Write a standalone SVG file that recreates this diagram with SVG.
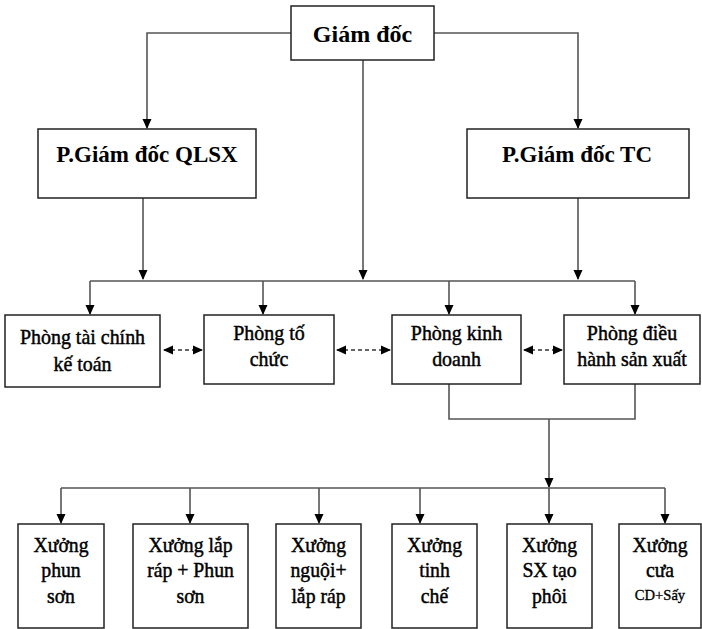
<svg xmlns="http://www.w3.org/2000/svg" width="702" height="629" viewBox="0 0 702 629">
<defs>
<marker id="ah" markerUnits="userSpaceOnUse" markerWidth="10" markerHeight="11" refX="9" refY="4.5" orient="auto-start-reverse" viewBox="0 0 10 9">
<path d="M0,0 L10,4.5 L0,9 Z" fill="#000"/>
</marker>
<marker id="dh" markerUnits="userSpaceOnUse" markerWidth="10" markerHeight="10" refX="9" refY="4.5" orient="auto-start-reverse" viewBox="0 0 10 9">
<path d="M0,0 L10,4.5 L0,9 Z" fill="#000"/>
</marker>
<style>
.box{fill:#fff;stroke:#222;stroke-width:1.5}
.ln{fill:none;stroke:#555;stroke-width:1.6}
.ar{fill:none;stroke:#555;stroke-width:1.6;marker-end:url(#ah)}
.da{fill:none;stroke:#666;stroke-width:2;stroke-dasharray:4 3;marker-start:url(#dh);marker-end:url(#dh)}
.tx{font-family:'Liberation Serif','DejaVu Serif','Times New Roman',serif;fill:#000;text-anchor:middle}
.t1{font-size:24px;font-weight:bold}
.t2{font-size:23px;font-weight:bold}
.t3{font-size:21px;stroke:#000;stroke-width:0.45}
.t4{font-size:15.5px;stroke:#000;stroke-width:0.35}
</style>
</defs>
<rect width="702" height="629" fill="#fff"/>
<g id="connectors">
<polyline class="ar" points="291,33 147,33 147,128"/>
<polyline class="ar" points="434,33 578,33 578,128"/>
<line class="ar" x1="363" y1="60" x2="363" y2="279"/>
<line class="ar" x1="143" y1="198" x2="143" y2="279"/>
<line class="ar" x1="578" y1="198" x2="578" y2="279"/>
<line class="ln" x1="90" y1="281" x2="635" y2="281"/>
<line class="ar" x1="90" y1="281" x2="90" y2="314"/>
<line class="ar" x1="263" y1="281" x2="263" y2="314"/>
<line class="ar" x1="449" y1="281" x2="449" y2="314"/>
<line class="ar" x1="635" y1="281" x2="635" y2="314"/>
<line class="da" x1="164" y1="350" x2="202" y2="350"/>
<line class="da" x1="337" y1="350" x2="390" y2="350"/>
<line class="da" x1="524" y1="350" x2="562" y2="350"/>
<polyline class="ln" points="449,384 449,419 635,419 635,384"/>
<line class="ar" x1="549" y1="419" x2="549" y2="487"/>
<line class="ln" x1="61" y1="488" x2="665" y2="488"/>
<line class="ar" x1="61" y1="488" x2="61" y2="523"/>
<line class="ar" x1="190" y1="488" x2="190" y2="523"/>
<line class="ar" x1="319" y1="488" x2="319" y2="523"/>
<line class="ar" x1="420" y1="488" x2="420" y2="523"/>
<line class="ar" x1="549" y1="488" x2="549" y2="523"/>
<line class="ar" x1="665" y1="488" x2="665" y2="523"/>
</g>
<g font-family="Liberation Serif, DejaVu Serif, serif">
<g id="giam-doc"><rect class="box" x="291" y="6" width="143" height="54"/><text class="tx t1" x="362.5" y="42">Giám đốc</text></g>
<g id="pgd-qlsx"><rect class="box" x="38" y="129" width="218" height="69"/><text class="tx t2" x="147" y="162">P.Giám đốc QLSX</text></g>
<g id="pgd-tc"><rect class="box" x="467" y="129" width="222" height="69"/><text class="tx t2" x="577" y="162">P.Giám đốc TC</text></g>
<g id="p-taichinh"><rect class="box" x="5" y="315" width="155" height="72"/><text class="tx t3" transform="translate(82.5,344) scale(0.95,1)">Phòng tài chính</text><text class="tx t3" transform="translate(82.5,371) scale(0.95,1)">kế toán</text></g>
<g id="p-tochuc"><rect class="box" x="204" y="315" width="130" height="69"/><text class="tx t3" transform="translate(269,340) scale(0.95,1)">Phòng tố</text><text class="tx t3" transform="translate(269,366) scale(0.95,1)">chức</text></g>
<g id="p-kinhdoanh"><rect class="box" x="392" y="315" width="129" height="69"/><text class="tx t3" transform="translate(456.5,340) scale(0.95,1)">Phòng kinh</text><text class="tx t3" transform="translate(456.5,366) scale(0.95,1)">doanh</text></g>
<g id="p-dieuhanh"><rect class="box" x="564" y="315" width="136" height="69"/><text class="tx t3" transform="translate(632,340) scale(0.95,1)">Phòng điều</text><text class="tx t3" transform="translate(632,366) scale(0.95,1)">hành sản xuất</text></g>
<g id="x-phunson"><rect class="box" x="18" y="524" width="86" height="104"/><text class="tx t3" transform="translate(61,552) scale(0.94,1)">Xưởng</text><text class="tx t3" transform="translate(61,577) scale(0.94,1)">phun</text><text class="tx t3" transform="translate(61,603) scale(0.94,1)">sơn</text></g>
<g id="x-laprap-phun"><rect class="box" x="133" y="524" width="115" height="104"/><text class="tx t3" transform="translate(190.5,552) scale(0.94,1)">Xưởng lắp</text><text class="tx t3" transform="translate(190.5,577) scale(0.94,1)">ráp + Phun</text><text class="tx t3" transform="translate(190.5,603) scale(0.94,1)">sơn</text></g>
<g id="x-nguoi"><rect class="box" x="276" y="524" width="85" height="104"/><text class="tx t3" transform="translate(318.5,552) scale(0.94,1)">Xưởng</text><text class="tx t3" transform="translate(318.5,577) scale(0.94,1)">nguội+</text><text class="tx t3" transform="translate(318.5,603) scale(0.94,1)">lắp ráp</text></g>
<g id="x-tinhche"><rect class="box" x="392" y="524" width="85" height="104"/><text class="tx t3" transform="translate(434.5,552) scale(0.94,1)">Xưởng</text><text class="tx t3" transform="translate(434.5,577) scale(0.94,1)">tinh</text><text class="tx t3" transform="translate(434.5,603) scale(0.94,1)">chế</text></g>
<g id="x-taophoi"><rect class="box" x="507" y="524" width="85" height="104"/><text class="tx t3" transform="translate(549.5,552) scale(0.94,1)">Xưởng</text><text class="tx t3" transform="translate(549.5,577) scale(0.94,1)">SX tạo</text><text class="tx t3" transform="translate(549.5,603) scale(0.94,1)">phôi</text></g>
<g id="x-cua"><rect class="box" x="619" y="524" width="82" height="104"/><text class="tx t3" transform="translate(660,552) scale(0.94,1)">Xưởng</text><text class="tx t3" transform="translate(660,577) scale(0.94,1)">cưa</text><text class="tx t4" transform="translate(660,600) scale(0.94,1)">CD+Sấy</text></g>
</g>
</svg>
